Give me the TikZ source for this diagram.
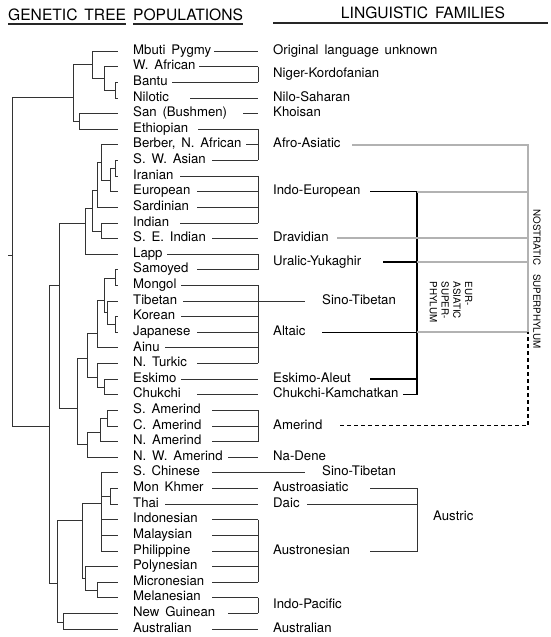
\documentclass[tikz,border=0pt]{standalone}
\usepackage{fontspec}
\setmainfont{TeX Gyre Heros}[WordSpace=1.6]
\usetikzlibrary{calc}
\begin{document}
\begin{tikzpicture}[
  x=1pt, y=-1pt,
  % ── text: populations, families, headers ──
  pp/.style={anchor=west, inner sep=0pt, text height=9pt, text depth=2.5pt,
             font=\fontsize{13.2}{15}\selectfont},
  fm/.style={pp},
  hd/.style={inner sep=0pt, font=\fontsize{15.6}{18}\selectfont},
  rt/.style={rotate=-90, inner sep=0pt, font=\fontsize{9.8}{11.8}\selectfont},
  % ── lines ──
  tr/.style={line width=0.6pt, black!80},
  ln/.style={line width=0.6pt, black!80},
  ul/.style={line width=1.3pt, black!85},
  eu/.style={line width=1.3pt, black},
  ns/.style={line width=2pt, black!30},
  am/.style={line width=1.1pt, black, dash pattern=on 4pt off 3pt},
]
\useasboundingbox (0,0) rectangle (550,637);

% ═══ columns: tree ends 118 / populations 133 / brackets 258 / families 273 ═══
\def\cP{133}  \def\cB{258}  \def\cF{273}  \def\cE{417}  \def\cN{528}

% ── headers ──────────────────────────────────────────────
\node[hd, anchor=west] (hg) at (8,15) {GENETIC TREE};
\node[hd, anchor=west] (hp) at (\cP,15) {POPULATIONS};
\node[hd] (hl) at (423,13) {LINGUISTIC FAMILIES};
\draw[ul] (hg.west |- 0,24) -- (hg.east |- 0,24);
\draw[ul] (hp.west |- 0,24) -- (hp.east |- 0,24);

% ── populations ──────────────────────────────────────────
\foreach \i/\t in {1/Mbuti Pygmy, 2/W. African, 3/Bantu, 4/Nilotic,
    5/San (Bushmen), 6/Ethiopian, 7/{Berber, N. African}, 8/S. W. Asian,
    9/Iranian, 10/European, 11/Sardinian, 12/Indian, 13/S. E. Indian,
    14/Lapp, 15/Samoyed, 16/Mongol, 17/Tibetan, 18/Korean, 19/Japanese,
    20/Ainu, 21/N. Turkic, 22/Eskimo, 23/Chukchi, 24/S. Amerind,
    25/C. Amerind, 26/N. Amerind, 27/N. W. Amerind, 28/S. Chinese,
    29/Mon Khmer, 30/Thai, 31/Indonesian, 32/Malaysian, 33/Philippine,
    34/Polynesian, 35/Micronesian, 36/Melanesian, 37/New Guinean,
    38/Australian}
  \node[pp] (p\i) at (\cP,{51+15.62*(\i-1)}) {\t};

% ── genetic tree: leaves, then inner nodes (x / top / bottom / parent x / y) ──
\foreach \i/\x in {1/92, 2/104, 3/115, 4/115, 5/79, 6/79, 7/101, 8/115,
    9/115, 10/110, 11/97, 12/101, 13/101, 14/85, 15/115, 16/115, 17/107,
    18/115, 19/115, 20/97, 21/97, 22/104, 23/104, 24/107, 25/107, 26/100,
    27/87, 28/101, 29/110, 30/110, 31/101, 32/101, 33/101, 34/85, 35/97,
    36/97, 37/63, 38/63}
  \draw[tr] (\x,0 |- p\i) -- ([xshift=-15pt]p\i.west);
\foreach \x/\a/\b/\px/\m in {92/51/78/73/64, 104/66.6/90/92/78,
    115/82.2/97.9/104/90, 79/113.5/129.1/73/121, 73/64/121/12/97,
    12/97/426/8/255, 49/285/583/12/426,
    115/160.3/176/110/168, 110/168/191.6/101/180, 101/144.7/180/97/162,
    97/162/207.2/92/190, 101/222.8/238.4/92/231, 92/190/231/85/208,
    85/208/254.1/59/223,
    115/269.7/285.3/104/278, 115/316.5/332.2/107/324, 107/300.9/324/104/312,
    104/278/312/97/300, 97/300/347.8/87/333, 104/379/394.6/97/387,
    97/363.4/387/87/377, 87/333/377/77/358,
    107/410.3/425.9/100/418, 100/418/441.5/87/432, 87/432/457.1/77/444,
    77/358/444/59/408, 59/223/408/49/285,
    110/488.4/504/101/496, 101/472.7/550.8/82/503, 97/582.1/597.7/85/590,
    85/566.5/590/82/578, 82/503/578/57/520, 63/613.3/628.9/57/622,
    57/520/622/49/583}
  \draw[tr] (\x,\a) -- (\x,\b) (\px,\m) -- (\x,\m);

% ── linguistic families ──────────────────────────────────
\node[fm] (f1) at (\cF,0 |- p1) {Original language unknown};
\node[fm] (f2) at ($(\cF,0 |- p2)!0.5!(\cF,0 |- p3)$) {Niger-Kordofanian};
\node[fm] (f3) at (\cF,0 |- p4) {Nilo-Saharan};
\node[fm] (f4) at (\cF,0 |- p5) {Khoisan};
\node[fm] (f5) at (\cF,0 |- p7) {Afro-Asiatic};
\node[fm] (f6) at (\cF,0 |- p10) {Indo-European};
\node[fm] (f7) at (\cF,0 |- p13) {Dravidian};
\node[fm] (f8) at ($(\cF,0 |- p14)!0.5!(\cF,0 |- p15)$) {Uralic-Yukaghir};
\node[fm] (f9) at (322,0 |- p17) {Sino-Tibetan};
\node[fm] (f10) at (\cF,0 |- p19) {Altaic};
\node[fm] (f11) at (\cF,0 |- p22) {Eskimo-Aleut};
\node[fm] (f12) at (\cF,0 |- p23) {Chukchi-Kamchatkan};
\node[fm] (f13) at (\cF,0 |- p25) {Amerind};
\node[fm] (f14) at (\cF,0 |- p27) {Na-Dene};
\node[fm] (f15) at (322,0 |- p28) {Sino-Tibetan};
\node[fm] (f16) at (\cF,0 |- p29) {Austroasiatic};
\node[fm] (f17) at (\cF,0 |- p30) {Daic};
\node[fm] (f18) at (\cF,0 |- p33) {Austronesian};
\node[fm] (f19) at ($(\cF,0 |- p36)!0.5!(\cF,0 |- p37)$) {Indo-Pacific};
\node[fm] (f20) at (\cF,0 |- p38) {Australian};
\draw[ul] (f1.west |- 0,23) -- (548,23);

% ── population -> family lines (row / start x / end x) ──
\foreach \i/\xs/\xe in {1/214/\cB, 2/199/\cB, 3/172/\cB, 4/190/\cB,
    5/243/\cB, 6/198/\cB, 7/246/\cB, 8/212/\cB, 9/180/\cB, 10/197/\cB,
    11/197/\cB, 12/180/\cB, 13/212/\cB, 14/167/\cB, 15/197/\cB, 16/181/\cB,
    17/183/305, 18/181/\cB, 19/197/\cB, 20/165/\cB, 21/197/\cB, 22/181/\cB,
    23/197/\cB, 24/212/\cB, 25/212/\cB, 26/212/\cB, 27/228/\cB, 28/212/305,
    29/212/\cB, 30/165/\cB, 31/212/\cB, 32/212/\cB, 33/212/\cB, 34/212/\cB,
    35/212/\cB, 36/212/\cB, 37/228/\cB, 38/212/\cB}
  \draw[ln] (\xs,0 |- p\i) -- (\xe,0 |- p\i);
\foreach \a/\b in {2/3, 6/8, 9/12, 14/15, 16/21, 24/26, 31/35, 36/37}
  \draw[ln] (\cB,0 |- p\a) -- (\cB,0 |- p\b);

% ── Eurasiatic superphylum ───────────────────────────────
\foreach \f/\xs in {f6/370, f8/383, f10/322, f11/370, f12/403}
  \draw[eu] (\xs,0 |- \f) -- (\cE,0 |- \f);
\draw[eu] (\cE,0 |- f6) -- (\cE,0 |- f12);
\node[rt, align=left] (eas) at (451,302) {EUR-\\ASIATIC\\SUPER-\\PHYLUM};

% ── Nostratic superphylum ────────────────────────────────
\draw[ns] (352,0 |- f5) -- (\cN,0 |- f5) -- (\cN,0 |- f10);
\foreach \f/\xs in {f6/\cE, f7/337, f8/\cE, f10/\cE}
  \draw[ns] (\xs,0 |- \f) -- (\cN,0 |- \f);
\draw[am] (340,0 |- f13) -- (\cN,0 |- f13) -- (\cN,0 |- f10);
\node[rt] (nos) at (537,279) {NOSTRATIC\hspace{9pt}SUPERPHYLUM};

% ── Austric ──────────────────────────────────────────────
\draw[ln] (370,0 |- f16) -- (\cE,0 |- f16) -- (\cE,0 |- f18) -- (370,0 |- f18);
\draw[ln] (307,0 |- f17) -- (\cE,0 |- f17);
\node[fm] (fa) at (433,517) {Austric};
\end{tikzpicture}
\end{document}
